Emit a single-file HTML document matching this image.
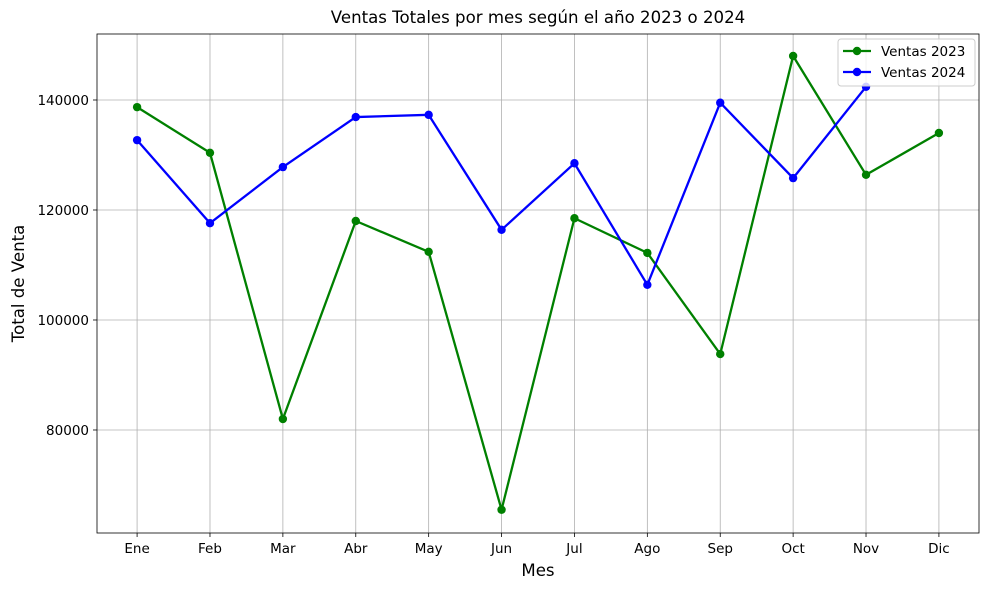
<!DOCTYPE html>
<html><head><meta charset="utf-8"><style>
body{margin:0;background:#fff;font-family:"Liberation Sans","DejaVu Sans",sans-serif}
svg text{font-family:"DejaVu Sans","Liberation Sans",sans-serif}
</style></head><body>
<svg id="chart" width="989" height="590"></svg>
<script>
const months=["Ene","Feb","Mar","Abr","May","Jun","Jul","Ago","Sep","Oct","Nov","Dic"];
const sales2023=[138700,130400,82000,118000,112400,65500,118500,112200,93800,148000,126400,134000];
const sales2024=[132700,117600,127800,136900,137300,116400,128500,106400,139500,125800,142400];
const yTicks=[80000,100000,120000,140000];
const L=97,R=979,T=34,B=533;
const xMin=-0.55,xMax=11.55,yMin=61270,yMax=152000;
const X=i=>L+(i-xMin)/(xMax-xMin)*(R-L);
const Y=v=>B-(v-yMin)/(yMax-yMin)*(B-T);
const svg=document.getElementById('chart');
const NS="http://www.w3.org/2000/svg";
function mk(tag,attrs,txt){const e=document.createElementNS(NS,tag);for(const k in attrs)e.setAttribute(k,attrs[k]);if(txt!=null)e.textContent=txt;svg.appendChild(e);return e;}
months.forEach((m,i)=>{
 const g=mk('line',{x1:X(i),x2:X(i),y1:T,y2:B,stroke:'#b0b0b0','stroke-width':0.8});
 
 
 mk('line',{x1:X(i),x2:X(i),y1:B,y2:B+4,stroke:'#000','stroke-width':0.8});
 const t=mk('text',{x:X(i),y:B+20,'text-anchor':'middle','font-size':13.5},m);
 
 
});
yTicks.forEach(v=>{
 const g=mk('line',{x1:L,x2:R,y1:Y(v),y2:Y(v),stroke:'#b0b0b0','stroke-width':0.8});
 
 
 mk('line',{x1:L-4,x2:L,y1:Y(v),y2:Y(v),stroke:'#000','stroke-width':0.8});
 const t=mk('text',{x:L-8,y:Y(v)+5,'text-anchor':'end','font-size':13.5},String(v));
 
 
});
function series(data,color,name){
 const pts=data.map((v,i)=>X(i)+','+Y(v)).join(' ');
 const p=mk('polyline',{points:pts,fill:'none',stroke:color,'stroke-width':2.3});
 
 
 data.forEach((v,i)=>{
  const c=mk('circle',{cx:X(i),cy:Y(v),r:4.2,fill:color});
  
  
 });
}
series(sales2023,'green','ventas-2023');
series(sales2024,'blue','ventas-2024');
const fr=mk('rect',{x:L,y:T,width:R-L,height:B-T,fill:'none',stroke:'#000','stroke-width':0.8});


const ti=mk('text',{x:(L+R)/2,y:23,'text-anchor':'middle','font-size':16.6},'Ventas Totales por mes según el año 2023 o 2024');


const xt=mk('text',{x:(L+R)/2,y:576,'text-anchor':'middle','font-size':16.6},'Mes');


const yt=mk('text',{x:24,y:(T+B)/2,'text-anchor':'middle','font-size':16.6,transform:'rotate(-90 24 '+(T+B)/2+')'},'Total de Venta');


const lg=mk('rect',{x:838,y:39,width:137,height:47,fill:'#fff','fill-opacity':0.8,stroke:'#ccc',rx:3});


[['Ventas 2023','green',51],['Ventas 2024','blue',72]].forEach(([n,c,y])=>{
 mk('line',{x1:843,x2:871,y1:y,y2:y,stroke:c,'stroke-width':2.3});
 mk('circle',{cx:857,cy:y,r:4.2,fill:c});
 const t=mk('text',{x:881,y:y+5,'font-size':13.5},n);
 
 
});
</script>
</body></html>
